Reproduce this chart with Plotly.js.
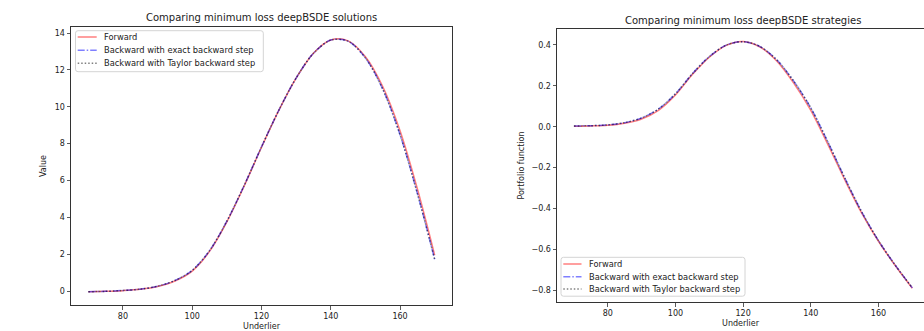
<!DOCTYPE html>
<html>
<head>
<meta charset="utf-8">
<script src="https://cdn.plot.ly/plotly-3.0.1.min.js"></script>
<style>html,body{margin:0;padding:0;background:#fff;}#chart{width:924px;height:331px;}</style>
</head>
<body>
<div id="chart"></div>
<script>
// ---- data ----
const underlier = [70,75,80,85,90,95,100,105,110,115,120,125,130,135,140,145,150,155,160,165,170];

const valueForward  = [-0.04,-0.02,0.02,0.09,0.24,0.54,1.08,2.15,3.75,5.70,7.80,9.80,11.55,12.90,13.62,13.58,12.72,11.10,8.70,5.55,1.95];
const valueExact    = [-0.04,-0.02,0.03,0.10,0.26,0.57,1.12,2.19,3.79,5.73,7.82,9.81,11.56,12.90,13.62,13.56,12.65,10.96,8.48,5.30,1.72];
const valueTaylor   = [-0.04,-0.02,0.03,0.10,0.26,0.57,1.12,2.19,3.79,5.73,7.82,9.81,11.56,12.90,13.62,13.56,12.65,10.96,8.48,5.30,1.72];

const stratForward  = [0.003,0.004,0.007,0.017,0.038,0.080,0.155,0.255,0.340,0.398,0.417,0.390,0.320,0.212,0.080,-0.085,-0.258,-0.421,-0.560,-0.680,-0.790];
const stratExact    = [0.004,0.005,0.009,0.020,0.043,0.087,0.161,0.259,0.343,0.399,0.416,0.392,0.326,0.222,0.092,-0.073,-0.249,-0.415,-0.557,-0.678,-0.788];
const stratTaylor   = [0.004,0.005,0.009,0.020,0.043,0.087,0.161,0.259,0.343,0.399,0.416,0.392,0.326,0.222,0.092,-0.073,-0.249,-0.415,-0.557,-0.678,-0.788];

const seriesNames = ["Forward","Backward with exact backward step","Backward with Taylor backward step"];
const titles = ["Comparing minimum loss deepBSDE solutions","Comparing minimum loss deepBSDE strategies"];
const xLabel = "Underlier";
const yLabels = ["Value","Portfolio function"];

// ---- styles ----
const W = 924, H = 331;
const FONT = "DejaVu Sans, sans-serif";
const styles = [
  {color:"rgba(255,0,0,0.5)", width:1.5, dash:"solid"},
  {color:"rgba(0,0,255,0.5)", width:1.5, dash:"7px,2px,1.5px,2px"},
  {color:"rgba(0,0,0,0.5)",   width:1.5, dash:"1.5px,2px"}
];

function mk(x, y, i, xa, ya) {
  return {x:x, y:y, type:"scatter", mode:"lines", name:seriesNames[i], showlegend:false,
    line:{color:styles[i].color, width:styles[i].width, dash:styles[i].dash, shape:"spline", smoothing:0.9},
    xaxis:xa, yaxis:ya, hoverinfo:"skip"};
}

const traces = [
  mk(underlier, valueForward, 0, "x", "y"),
  mk(underlier, valueExact,   1, "x", "y"),
  mk(underlier, valueTaylor,  2, "x", "y"),
  mk(underlier, stratForward, 0, "x2", "y2"),
  mk(underlier, stratExact,   1, "x2", "y2"),
  mk(underlier, stratTaylor,  2, "x2", "y2")
];

const axBase = {
  showgrid:false, zeroline:false, showline:true, linecolor:"#333", linewidth:1,
  ticks:"outside", ticklen:3.5, tickwidth:0.8, tickcolor:"#333",
  tickfont:{family:FONT, size:8, color:"#222"}, automargin:false, fixedrange:true
};
const tfont = {family:FONT, size:8, color:"#222"};

// ---- legends (matplotlib-style boxes) built in pixel space ----
const px = v => v / W, py = v => 1 - v / H;
function roundRect(x0, y0, x1, y1, r) {
  const P = (x, y) => px(x) + "," + py(y);
  return "M" + P(x0 + r, y0) + " L" + P(x1 - r, y0) + " Q" + P(x1, y0) + " " + P(x1, y0 + r) +
         " L" + P(x1, y1 - r) + " Q" + P(x1, y1) + " " + P(x1 - r, y1) +
         " L" + P(x0 + r, y1) + " Q" + P(x0, y1) + " " + P(x0, y1 - r) +
         " L" + P(x0, y0 + r) + " Q" + P(x0, y0) + " " + P(x0 + r, y0) + " Z";
}
const shapes = [], annotations = [];
function addLegend(box, rows, symX0, symX1, textX) {
  shapes.push({type:"path", xref:"paper", yref:"paper", path:roundRect(box[0], box[1], box[2], box[3], 2.5),
    fillcolor:"rgba(255,255,255,0.8)", line:{color:"#d4d4d4", width:1}, layer:"above"});
  rows.forEach((ry, i) => {
    shapes.push({type:"line", xref:"paper", yref:"paper", x0:px(symX0), x1:px(symX1), y0:py(ry), y1:py(ry),
      line:{color:styles[i].color, width:styles[i].width, dash:styles[i].dash}, layer:"above"});
    annotations.push({text:seriesNames[i], xref:"paper", yref:"paper", x:px(textX), y:py(ry),
      xanchor:"left", yanchor:"middle", showarrow:false, font:{family:FONT, size:8.3, color:"#222"}});
  });
}
addLegend([75.5, 30.7, 263.3, 71.7], [37.0, 50.3, 63.3], 77.7, 96.7, 101.5);
addLegend([561, 257.3, 745, 296.2], [264.0, 276.7, 289.0], 563.3, 581.5, 587.0);

annotations.push(
  {text:titles[0], xref:"paper", yref:"paper", x:px(261.5), y:py(17), xanchor:"center", yanchor:"middle", showarrow:false,
   font:{family:FONT, size:10, color:"#222"}},
  {text:titles[1], xref:"paper", yref:"paper", x:px(743), y:py(20.3), xanchor:"center", yanchor:"middle", showarrow:false,
   font:{family:FONT, size:10, color:"#222"}}
);

const layout = {
  width:W, height:H,
  margin:{l:0, r:0, t:0, b:0},
  paper_bgcolor:"#fff", plot_bgcolor:"#fff",
  showlegend:false,
  font:{family:FONT, color:"#222"},
  xaxis: Object.assign({}, axBase, {domain:[71/W, 452/W], range:[65,175], dtick:20, tick0:0, mirror:true, anchor:"y",
    title:{text:xLabel, font:tfont, standoff:3}}),
  yaxis: Object.assign({}, axBase, {domain:[1-305/H, 1-27/H], range:[-0.76,14.33], dtick:2, tick0:0, mirror:true, anchor:"x",
    title:{text:yLabels[0], font:tfont, standoff:6}}),
  xaxis2: Object.assign({}, axBase, {domain:[557/W, 1], range:[65,173.45], dtick:20, tick0:0, mirror:true, anchor:"y2",
    title:{text:xLabel, font:tfont, standoff:3}}),
  yaxis2: Object.assign({}, axBase, {domain:[1-302/H, 1-29/H], range:[-0.857,0.478], dtick:0.2, tick0:0, tickformat:".1f", mirror:false, anchor:"x2",
    title:{text:yLabels[1], font:tfont, standoff:5}}),
  shapes:shapes,
  annotations:annotations
};

Plotly.newPlot("chart", traces, layout, {displayModeBar:false, staticPlot:true});
</script>
</body>
</html>
